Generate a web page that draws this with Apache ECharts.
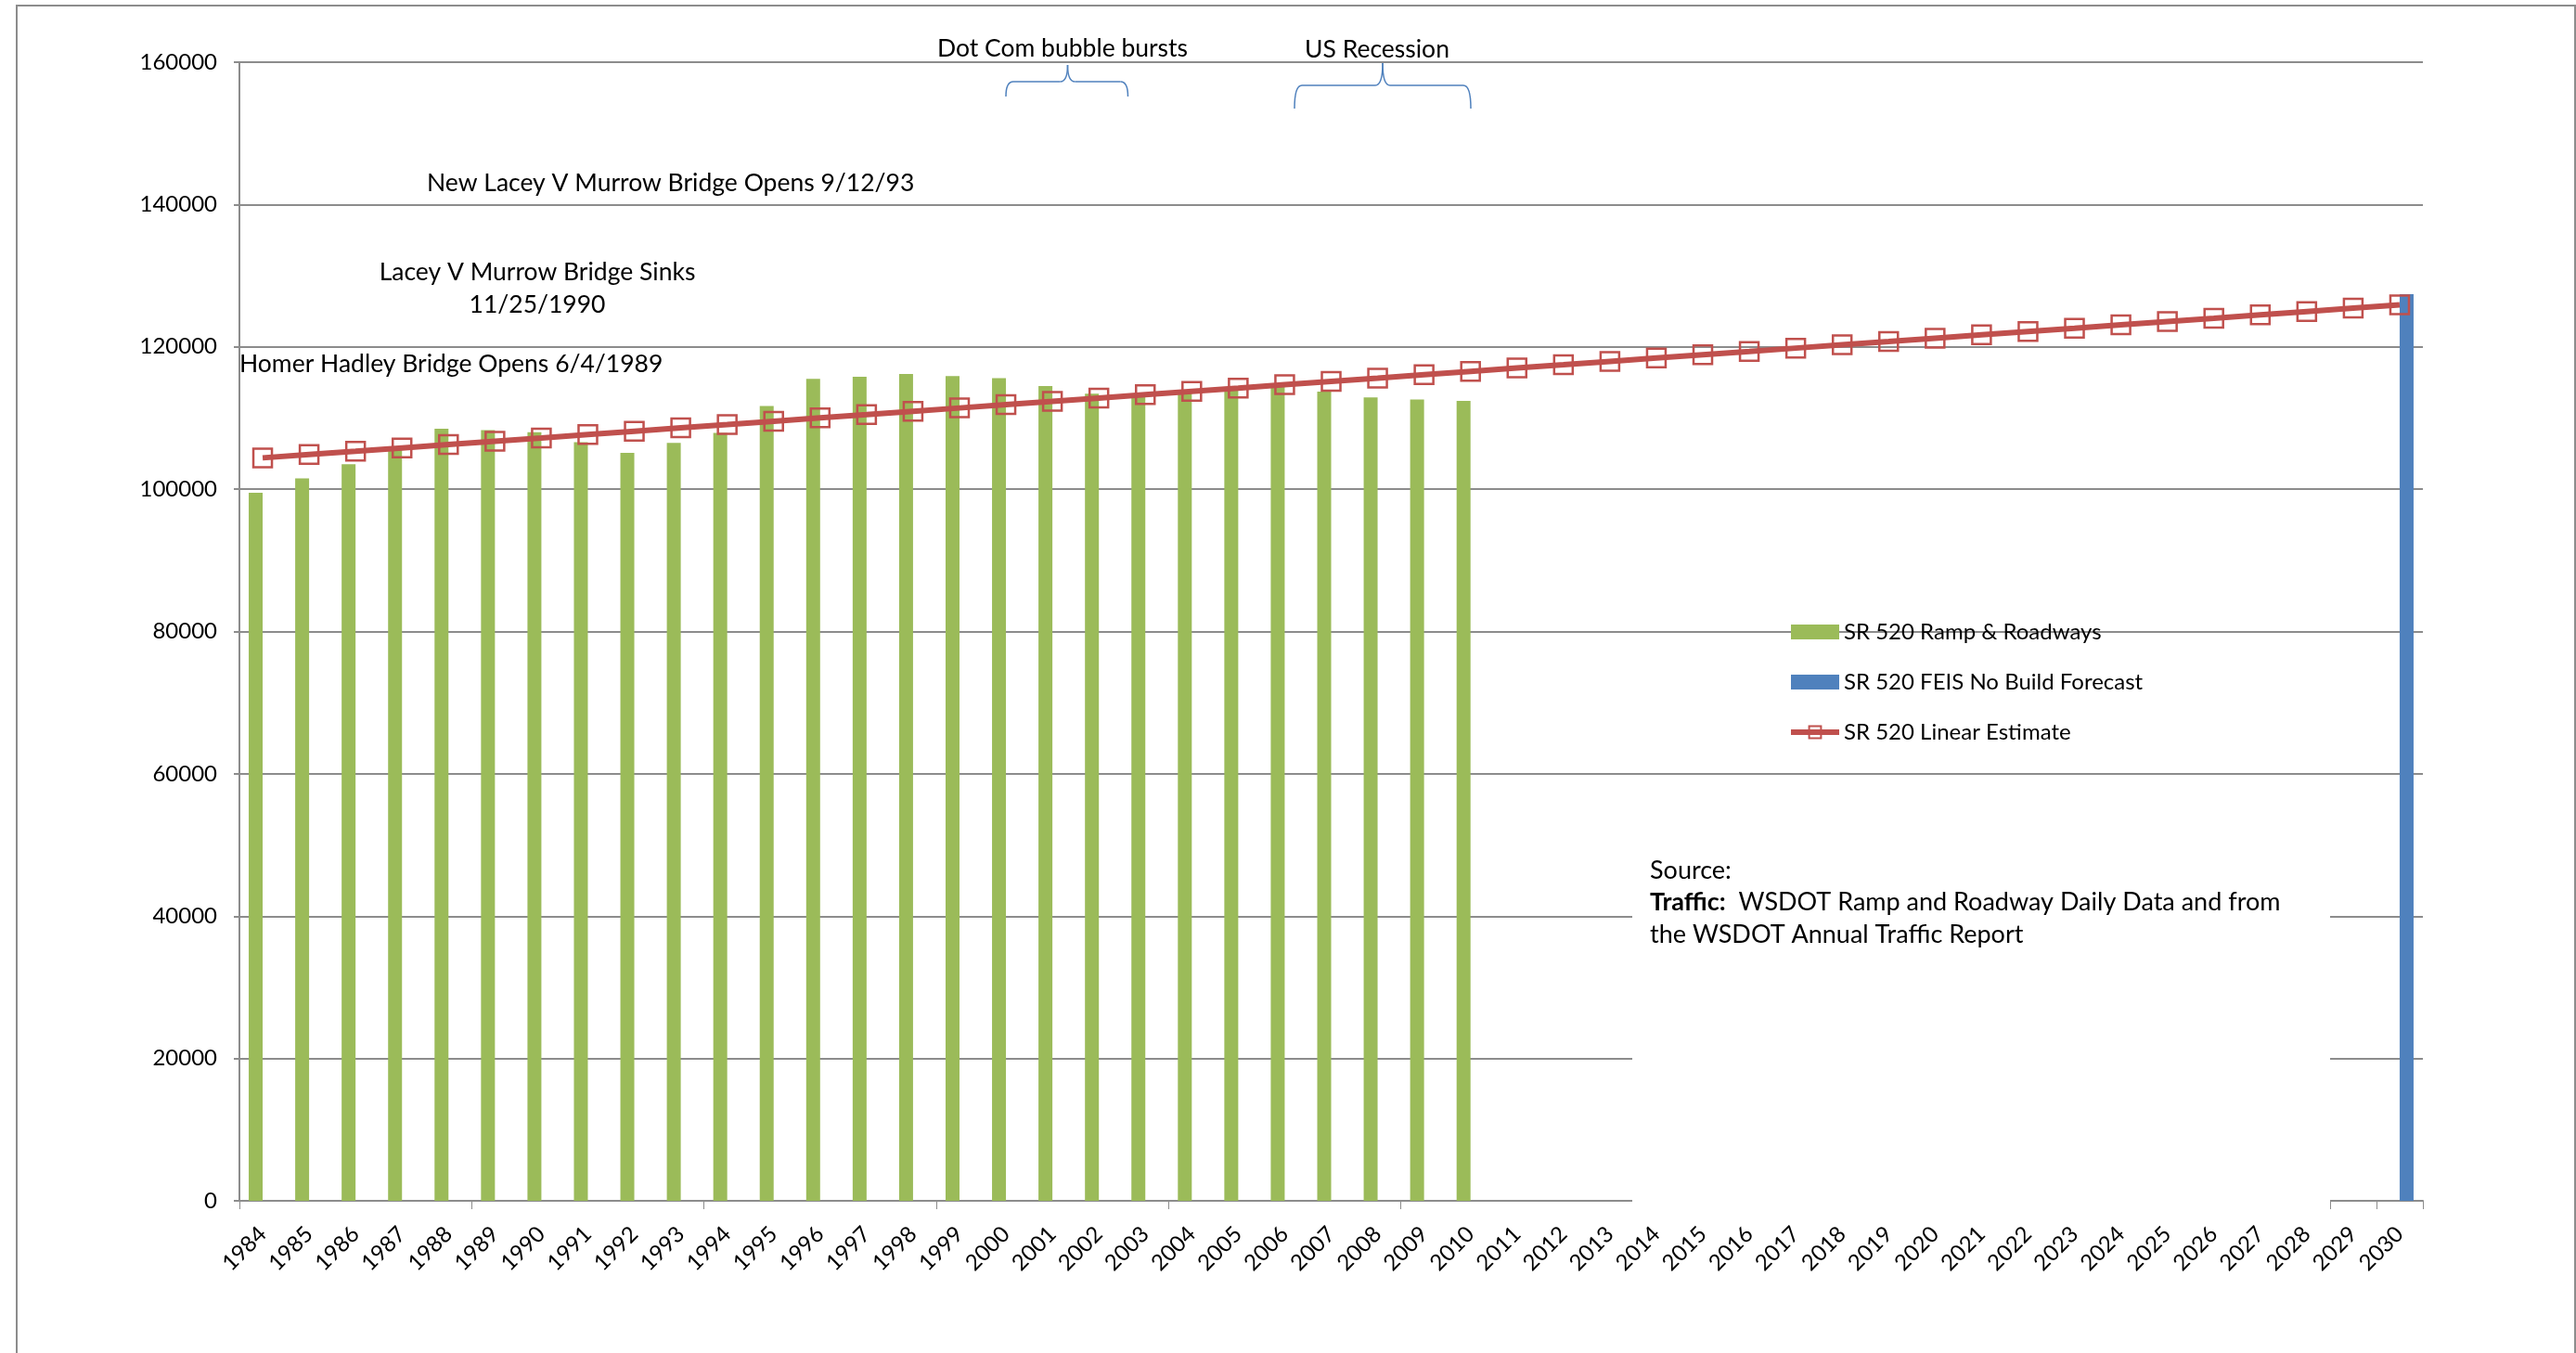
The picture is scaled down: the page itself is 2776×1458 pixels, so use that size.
<!DOCTYPE html>
<html>
<head>
<meta charset="utf-8">
<title>SR 520 traffic</title>
<script src="https://cdn.jsdelivr.net/npm/echarts@6/dist/echarts.min.js"></script>
<style>
  html, body { margin: 0; padding: 0; background: #fff; }
  #main { width: 2776px; height: 1458px; }
</style>
</head>
<body>
<div id="main"></div>
<script>
// years on the category axis
const years = [];
for (let y = 1984; y <= 2030; y++) years.push(String(y));

// SR 520 Ramp & Roadways, 1984-2010
const rampRoadways = [
  99500, 101500, 103500, 105800, 108500, 108300, 108000, 106600, 105100, 106500,
  107900, 111700, 115500, 115800, 116200, 115900, 115600, 114500, 113400, 113300,
  113800, 114000, 114500, 113700, 112900, 112600, 112400
];

// SR 520 FEIS No Build Forecast, only 2030
const forecast2030 = 127400;

// SR 520 Linear Estimate, 1984-2030
const linearEstimate = [
  104400, 104870, 105330, 105800, 106270, 106740, 107200, 107670, 108140, 108610,
  109070, 109540, 110010, 110470, 110940, 111410, 111880, 112340, 112810, 113280,
  113750, 114210, 114680, 115150, 115610, 116080, 116550, 117020, 117480, 117950,
  118420, 118890, 119350, 119820, 120290, 120750, 121220, 121690, 122160, 122620,
  123090, 123560, 124020, 124490, 124960, 125430, 125890
];

const yTicks = { min: 0, max: 160000, interval: 20000 };

const greenData = years.map((y, i) => i < rampRoadways.length ? rampRoadways[i] : null);
const blueData = years.map(y => y === '2030' ? forecast2030 : null);

const FONT = 'Lato, "Liberation Sans", sans-serif';
const GRID_COLOR = '#8c8c8c';
const BRACE_COLOR = '#4F81BD';
const RED = '#C0504D';

// curly brace opening downward: ends at y=end, bar at y=h, point at y=tip
function brace(L, C, R, h, tip, end) {
  const st = { stroke: BRACE_COLOR, lineWidth: 1.5, fill: 'none' };
  const r = 8;
  return {
    type: 'group', z: 10,
    children: [
      { type: 'bezierCurve', shape: { x1: L, y1: end, cpx1: L, cpy1: h, x2: L + r, y2: h }, style: st },
      { type: 'line', shape: { x1: L + r, y1: h, x2: C - r, y2: h }, style: st },
      { type: 'bezierCurve', shape: { x1: C - r, y1: h, cpx1: C, cpy1: h, x2: C, y2: tip }, style: st },
      { type: 'bezierCurve', shape: { x1: C, y1: tip, cpx1: C, cpy1: h, x2: C + r, y2: h }, style: st },
      { type: 'line', shape: { x1: C + r, y1: h, x2: R - r, y2: h }, style: st },
      { type: 'bezierCurve', shape: { x1: R - r, y1: h, cpx1: R, cpy1: h, x2: R, y2: end }, style: st }
    ]
  };
}

function note(text, x, y, size, align) {
  return {
    type: 'text', x: x, y: y, z: 51,
    style: { text: text, font: size + 'px ' + FONT, fill: '#000', textAlign: align || 'left', textVerticalAlign: 'middle' }
  };
}

const chart = echarts.init(document.getElementById('main'));

const option = {
  animation: false,
  backgroundColor: '#fff',
  textStyle: { fontFamily: FONT, color: '#000' },
  grid: { left: 258, right: 165, top: 67, bottom: 164 },
  legend: {
    orient: 'vertical',
    left: 1927,
    top: 669,
    padding: 0,
    itemWidth: 52,
    itemHeight: 16,
    itemGap: 30,
    textStyle: { fontFamily: FONT, fontSize: 24, color: '#000' },
    data: [
      { name: 'SR 520 Ramp & Roadways', icon: 'rect' },
      { name: 'SR 520 FEIS No Build Forecast', icon: 'rect' },
      { name: 'SR 520 Linear Estimate', lineStyle: { width: 6, color: RED },
        itemStyle: { color: 'rgba(255,255,255,0)', borderColor: RED, borderWidth: 2 } }
    ]
  },
  xAxis: {
    type: 'category',
    data: years,
    boundaryGap: true,
    axisLine: { lineStyle: { color: GRID_COLOR, width: 2 } },
    axisTick: { show: true, interval: 4, length: 9, lineStyle: { color: GRID_COLOR, width: 1 } },
    axisLabel: {
      interval: 0,
      rotate: 45,
      margin: 32,
      fontFamily: FONT,
      fontSize: 24,
      color: '#000'
    }
  },
  yAxis: {
    type: 'value',
    min: yTicks.min,
    max: yTicks.max,
    interval: yTicks.interval,
    axisLine: { show: true, lineStyle: { color: GRID_COLOR, width: 2 } },
    axisTick: { show: true, length: 6, lineStyle: { color: GRID_COLOR, width: 2 } },
    axisLabel: { margin: 24, fontFamily: FONT, fontSize: 24, color: '#000', formatter: v => String(v) },
    splitLine: { show: true, lineStyle: { color: GRID_COLOR, width: 2 } }
  },
  series: [
    {
      name: 'SR 520 Ramp & Roadways',
      type: 'bar',
      data: greenData,
      barWidth: 15,
      barGap: '0%',
      itemStyle: { color: '#9BBB59' }
    },
    {
      name: 'SR 520 FEIS No Build Forecast',
      type: 'bar',
      data: blueData,
      barWidth: 15,
      barGap: '0%',
      itemStyle: { color: '#4F81BD' }
    },
    {
      name: 'SR 520 Linear Estimate',
      type: 'line',
      data: linearEstimate,
      symbol: 'rect',
      symbolSize: 20,
      showAllSymbol: true,
      lineStyle: { color: RED, width: 6 },
      itemStyle: { color: 'rgba(255,255,255,0)', borderColor: RED, borderWidth: 2.5 },
      z: 3
    }
  ],
  graphic: [
    // outer frame
    { type: 'rect', z: 1, shape: { x: 18, y: 6, width: 2757, height: 1500 }, style: { fill: 'none', stroke: '#8c8c8c', lineWidth: 2 } },
    // white box behind the source note
    { type: 'rect', z: 50, shape: { x: 1759, y: 880, width: 752, height: 426 }, style: { fill: '#fff' } },
    note('Source:', 1778, 938, 27),
    { type: 'text', x: 1778, y: 972, z: 51, style: {
        text: '{b|Traffic:}  WSDOT Ramp and Roadway Daily Data and from',
        font: '27px ' + FONT, fill: '#000', textVerticalAlign: 'middle',
        rich: { b: { fontWeight: 'bold', fontFamily: FONT, fontSize: 27 } }
      } },
    note('the WSDOT Annual Traffic Report', 1778, 1007, 27),

    // event notes
    note('Dot Com bubble bursts', 1010, 52, 26.5),
    note('US Recession', 1406, 53, 26.5),
    note('New Lacey V Murrow Bridge Opens 9/12/93', 460, 197, 26.5),
    note('Lacey V Murrow Bridge Sinks', 579, 293, 26.5, 'center'),
    note('11/25/1990', 579, 328, 26.5, 'center'),
    note('Homer Hadley Bridge Opens 6/4/1989', 258, 392, 26.5),

    // braces
    brace(1084, 1150.5, 1215.5, 88, 70, 104),
    brace(1395, 1490, 1585, 92, 68, 117)
  ]
};

chart.setOption(option);
</script>
</body>
</html>
